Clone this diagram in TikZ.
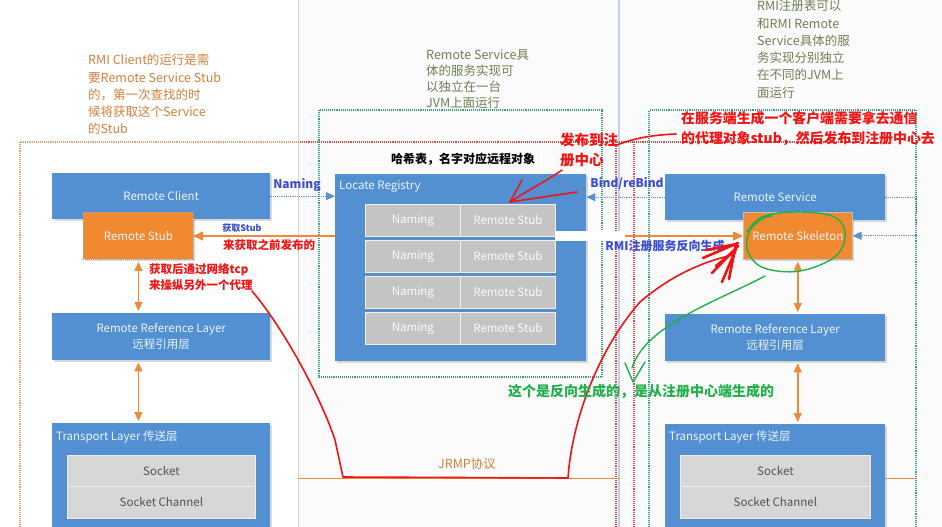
\documentclass[tikz,border=0pt]{standalone}
\usepackage{fontspec}
\setmainfont{Noto Sans CJK SC}
\usetikzlibrary{arrows.meta,shadows}

\definecolor{boxblue}{HTML}{5290D2}
\definecolor{stuborange}{HTML}{F0892F}
\definecolor{cellgray}{HTML}{C4C4C4}
\definecolor{sockgray}{HTML}{D7D7D7}
\definecolor{boxtext}{HTML}{EDF3FA}
\definecolor{noteorange}{HTML}{D2823C}
\definecolor{noteolive}{HTML}{6F7F54}
\definecolor{labelblue}{HTML}{3B4ECF}
\definecolor{penred}{HTML}{F01414}
\definecolor{pengreen}{HTML}{22B04A}
\definecolor{jvmgreen}{HTML}{3A9E74}
\definecolor{jvmorange}{HTML}{E3A172}
\definecolor{jvmred}{HTML}{D24A4A}
\definecolor{linkblue}{HTML}{5E90CF}
\definecolor{arroworange}{HTML}{EE8A3A}
\definecolor{slideedge}{HTML}{D4D4D4}
\definecolor{slideblue}{HTML}{BCD2EE}

\tikzset{
  layerbox/.style={fill=boxblue, draw=none, inner sep=0pt, anchor=north west,
    text=boxtext, font=\fontsize{11.5}{16}\selectfont, align=center,
    drop shadow={shadow xshift=1.8pt, shadow yshift=-1.8pt, opacity=0.3}},
  proxybox/.style={layerbox, fill=stuborange},
  cellbox/.style={fill=cellgray, draw=white!88!gray, line width=0.8pt, inner sep=0pt,
    anchor=north west, text=white!96!gray, font=\fontsize{11.5}{14}\selectfont,
    minimum width=95pt, minimum height=32pt,
    drop shadow={shadow xshift=1.5pt, shadow yshift=-1.5pt, opacity=0.35}},
  socketbox/.style={fill=sockgray, draw=white!85!gray, line width=0.8pt, inner sep=0pt,
    anchor=north west, text=black!68, font=\fontsize{11.5}{14}\selectfont,
    drop shadow={shadow xshift=1.5pt, shadow yshift=-1.5pt, opacity=0.35}},
  boxtitle/.style={anchor=west, inner sep=0pt, text=boxtext, font=\fontsize{11.5}{14}\selectfont},
  layerlink/.style={draw=arroworange, line width=1.5pt,
    {Triangle[width=8pt,length=9pt]}-{Triangle[width=8pt,length=9pt]}, shorten <=2pt, shorten >=2pt},
  bluelink/.style={draw=linkblue, line width=1.2pt, densely dotted, -{Triangle[width=8pt,length=9pt]}},
  linklabel/.style={inner sep=0pt, text=labelblue, font=\bfseries\fontsize{12}{14}\selectfont},
  jvmline/.style={line width=1.1pt, densely dotted},
  note/.style={anchor=north west, inner sep=0pt, align=left, font=\fontsize{12.5}{17.3}\selectfont},
  redtext/.style={inner sep=0pt, text=penred, font=\bfseries\fontsize{11.5}{16.5}\selectfont},
  redpen/.style={draw=penred, line width=1.6pt, line cap=round, line join=round},
  greenpen/.style={draw=pengreen, line width=1.4pt, line cap=round, line join=round},
}

\begin{document}
\begin{tikzpicture}[x=1pt, y=-1pt]
  \useasboundingbox (0,0) rectangle (942,527);
  \clip (0,0) rectangle (942,527);
  \fill[white!98.5!black] (0,0) rectangle (942,527);
  \fill[white] (0,0) rectangle (298,527);

  % slide edges
  \draw[slideedge, line width=1pt] (298,0) -- (298,527);
  \draw[slideblue, line width=1.6pt] (619,0) -- (619,527);

  % JVM boundaries
  \draw[jvmline, jvmorange] (20,540) -- (20,142) -- (300,142);
  \draw[jvmline, jvmred] (300,142) -- (634,142) -- (634,540);
  \draw[jvmline, jvmred] (634,142) -- (860,142);
  \draw[jvmline, jvmred] (616,142) -- (616,540);
  \draw[jvmline, jvmgreen] (319,110) rectangle (602,377);
  \draw[jvmline, jvmgreen] (649,540) -- (649,110) -- (916,110) -- (916,540);

  % notes
  \node[note, text=noteorange] (clientnote) at (88,54)
    {RMI Client的运行是需\\要Remote Service Stub\\的，第一次查找的时\\候将获取这个Service\\的Stub};
  \node[note, text=noteolive, font=\fontsize{12.5}{16}\selectfont] (servicenote) at (426,49)
    {Remote Service具\\体的服务实现可\\以独立在一台\\JVM上面运行};
  \node[note, text=noteolive] (registrynote) at (757,0)
    {RMI注册表可以\\和RMI Remote\\Service具体的服\\务实现分别独立\\在不同的JVM上\\面运行};

  % JRMP
  \coordinate (jrmpL) at (298,478);
  \coordinate (jrmpR) at (620,478);
  \draw[arroworange, line width=1pt] (jrmpL) -- (jrmpR);
  \draw[arroworange, line width=1pt] (885,478) -- (916,478);
  \node[inner sep=0pt, text=noteorange, font=\fontsize{12.5}{14}\selectfont] (jrmp) at (467,464) {JRMP协议};

  % client side
  \node[layerbox, minimum width=218pt, minimum height=46pt] (rc) at (52,173) {Remote Client};
  \node[layerbox, minimum width=218pt, minimum height=47pt] (rrl) at (52,313)
    {Remote Reference Layer\\远程引用层};
  \node[layerbox, minimum width=218pt, minimum height=120pt] (tl) at (52,423) {};
  \node[boxtitle] (tlt) at (56,437) {Transport Layer 传送层};
  \node[socketbox, minimum width=188pt, minimum height=31pt] (sk1) at (67,455) {Socket};
  \node[socketbox, minimum width=188pt, minimum height=32pt] (sk2) at (67,486) {Socket Channel};

  % server side
  \node[layerbox, minimum width=220pt, minimum height=46pt] (svc) at (665,174) {Remote Service};
  \node[layerbox, minimum width=220pt, minimum height=47pt] (rrl2) at (665,314)
    {Remote Reference Layer\\远程引用层};
  \node[layerbox, minimum width=220pt, minimum height=120pt] (tl2) at (665,424) {};
  \node[boxtitle] (tlt2) at (669,437) {Transport Layer 传送层};
  \node[socketbox, minimum width=190pt, minimum height=31pt] (sk3) at (680,455) {Socket};
  \node[socketbox, minimum width=190pt, minimum height=32pt] (sk4) at (680,486) {Socket Channel};

  % stub/skeleton link, passing behind the registry
  \draw[draw=arroworange, line width=1.3pt,
    {Triangle[width=9pt,length=10pt]}-{Triangle[width=9pt,length=10pt]}]
    (193,236) coordinate (stubin) -- (743,236) coordinate (skelin);

  % registry
  \node[layerbox, minimum width=251pt, minimum height=187pt] (lr) at (335,174) {};
  \node[boxtitle] (lrt) at (339,186) {Locate Registry};
  \foreach \r/\top in {1/204, 2/240, 3/276, 4/312} {
    \node[cellbox] (nm\r) at (365,\top) {Naming};
    \node[cellbox] (st\r) at (460,\top) {Remote Stub};
  }
  \fill[white] (555,231) rectangle (625,241);

  % proxies
  \node[proxybox, draw=black!35, densely dotted, line width=0.9pt,
    minimum width=110pt, minimum height=47pt] (rs) at (83,212) {Remote Stub};
  \node[proxybox, draw=black!25, line width=0.6pt,
    minimum width=109pt, minimum height=47pt] (skel) at (743,212) {Remote Skeleton};

  % layer links
  \draw[layerlink] (rs.south) -- (rs.south |- rrl.north);
  \draw[layerlink] (rs.south |- rrl.south) -- (rs.south |- tl.north);
  \draw[layerlink] (skel.south) -- (skel.south |- rrl2.north);
  \draw[layerlink] (skel.south |- rrl2.south) -- (skel.south |- tl2.north);

  % naming / binding
  \draw[bluelink] (rc.east) -- (lr.west |- rc.east);
  \node[linklabel] (naminglbl) at (297,185) {Naming};
  \draw[bluelink] (svc.west) -- (lr.east |- svc.west);
  \node[linklabel] (bindlbl) at (627,184) {Bind/reBind};
  \draw[bluelink] (svc.east) -- ++(31,0) |- (skel.east);

  % labels on the stub/skeleton link
  \node[inner sep=0pt, text=labelblue, font=\bfseries\fontsize{9}{11}\selectfont] (getstub) at (242,228) {获取Stub};
  \node[redtext] (fetchnote) at (269,245) {来获取之前发布的};
  \node[linklabel, font=\bfseries\fontsize{12}{14}\selectfont] (reverselbl) at (665,246) {RMI注册服务反向生成};
  \node[redtext, anchor=north west, align=left] (tcpnote) at (149,263)
    {获取后通过网络tcp\\来操纵另外一个代理};

  % registry annotation
  \node[fill=white, inner sep=1.5pt, text=black, font=\bfseries\fontsize{12}{14}\selectfont] (hashnote) at (463,159)
    {哈希表，名字对应远程对象};
  \node[redtext, anchor=north west, align=left, font=\bfseries\fontsize{14.5}{20}\selectfont] (publish) at (560,133)
    {发布到注\\册中心};
  \draw[redpen] (562,170) .. controls (545,182) and (525,192) .. (510,202);
  \draw[redpen] (510,202) -- (522,180);
  \draw[redpen] (510,202) -- (577,192);

  % server annotation
  \node[redtext, anchor=north west, align=left, font=\bfseries\fontsize{13.9}{20}\selectfont] (servernote) at (681,111)
    {在服务端生成一个客户端需要拿去通信\\的代理对象stub，然后发布到注册中心去};
  \draw[redpen] (676,134) .. controls (650,135) and (632,139) .. (617,145);

  % tcp path through JRMP to the skeleton
  \draw[redpen] (252,291) .. controls (285,330) and (322,400) .. (335,440) -- (343,477) -- (568,478)
    .. controls (572,420) and (598,350) .. (640,302) .. controls (668,278) and (700,262) .. (733,255);
  \foreach \a/\b in {{(738,243)}/{(703,258)}, {(738,246)}/{(712,273)}, {(736,249)}/{(722,282)},
                     {(736,244)}/{(729,279)}, {(737,244)}/{(706,250)}, {(735,250)}/{(716,266)}} {
    \draw[redpen, line width=2.6pt] \a -- \b;
  }

  % reverse generation note
  \draw[greenpen] plot[smooth, tension=0.6] coordinates {(747,232) (762,217) (795,212) (832,216) (845,232)
    (836,256) (800,271) (764,268) (748,252) (749,232) (762,219) (772,216)};
  \draw[greenpen] (765,276) .. controls (720,300) and (645,325) .. (632,368);
  \draw[greenpen] (625,363) -- (633,382) -- (645,362);
  \node[inner sep=0pt, text=pengreen, font=\bfseries\fontsize{14}{16}\selectfont] (reversenote) at (641,391)
    {这个是反向生成的，是从注册中心端生成的};
\end{tikzpicture}
\end{document}
